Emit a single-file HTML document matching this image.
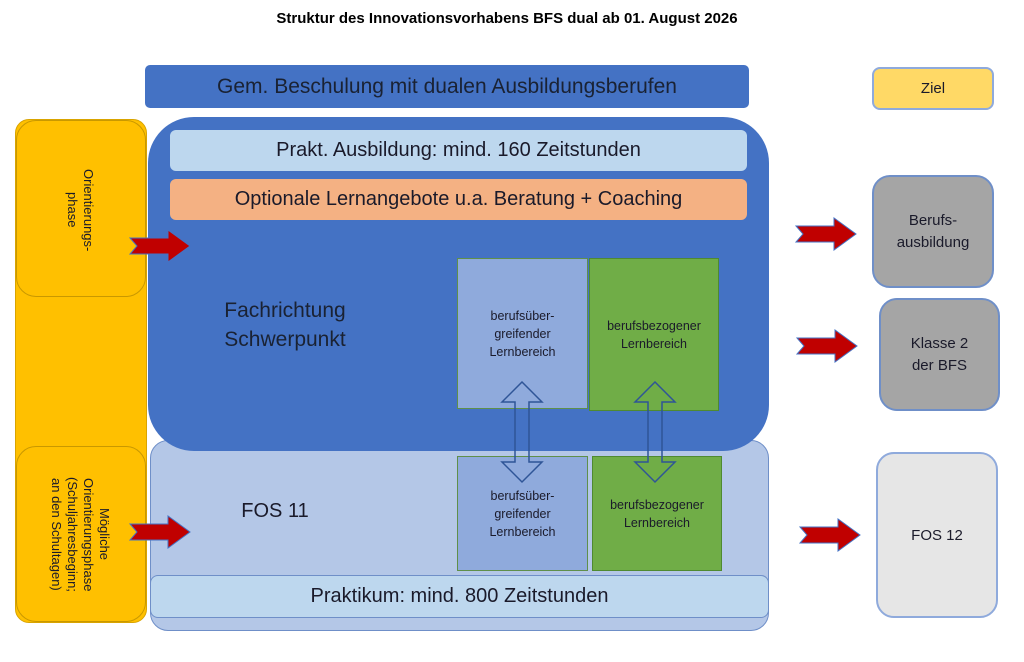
<!DOCTYPE html>
<html><head><meta charset="utf-8"><style>
body{margin:0;width:1024px;height:662px;background:#fff;position:relative;overflow:hidden;font-family:"Liberation Sans",sans-serif;color:#1a1a2a}
.a{position:absolute;box-sizing:border-box;display:flex;align-items:center;justify-content:center;text-align:center}
.v{writing-mode:vertical-rl;font-size:13px;line-height:16px;text-align:center}
</style></head><body>
<div class="a" style="left:0;top:6px;width:1014px;height:24px;font-weight:bold;font-size:15px;color:#000">Struktur des Innovationsvorhabens BFS dual ab 01. August 2026</div>

<div class="a" style="left:145px;top:65px;width:604px;height:43px;background:#4472c4;border-radius:5px;font-size:21px;color:#1a2233">Gem. Beschulung mit dualen Ausbildungsberufen</div>
<div class="a" style="left:872px;top:67px;width:122px;height:43px;background:#ffd966;border:2px solid #8faadc;border-radius:8px;font-size:15px">Ziel</div>

<!-- yellow column -->
<div class="a" style="left:15px;top:119px;width:132px;height:504px;background:#ffc000;border:1px solid #d9a400;border-radius:14px"></div>
<div style="position:absolute;left:16px;top:120px;width:130px;height:177px;box-sizing:border-box;border:1px solid #c99800;border-radius:20px"></div>
<div class="v" style="position:absolute;left:64px;top:155px;height:110px">Orientierungs-<br>phase</div>
<div style="position:absolute;left:16px;top:446px;width:130px;height:176px;box-sizing:border-box;border:1px solid #c99800;border-radius:20px"></div>
<div class="v" style="position:absolute;left:48px;top:462px;height:145px">Mögliche<br>Orientierungsphase<br>(Schuljahresbeginn;<br>an den Schultagen)</div>

<!-- FOS lower -->
<div class="a" style="left:150px;top:440px;width:619px;height:191px;background:#b4c7e7;border:1.5px solid #6f8fc8;border-radius:18px"></div>
<!-- blue big -->
<div class="a" style="left:148px;top:117px;width:621px;height:334px;background:#4472c4;border-radius:46px"></div>
<div class="a" style="left:170px;top:130px;width:577px;height:41px;background:#bdd7ee;border-radius:6px;font-size:20px">Prakt. Ausbildung: mind. 160 Zeitstunden</div>
<div class="a" style="left:170px;top:179px;width:577px;height:41px;background:#f4b183;border-radius:6px;font-size:20px">Optionale Lernangebote u.a. Beratung + Coaching</div>
<div class="a" style="left:195px;top:292px;width:180px;height:66px;font-size:21px;line-height:29px;color:#1a2233">Fachrichtung<br>Schwerpunkt</div>

<div class="a" style="left:457px;top:258px;width:131px;height:151px;background:#8faadc;border:1px solid #5f8f4a;font-size:12.5px;line-height:18px">berufsüber-<br>greifender<br>Lernbereich</div>
<div class="a" style="left:589px;top:258px;width:130px;height:153px;background:#70ad47;border:1px solid #4f8a30;font-size:12.5px;line-height:18px">berufsbezogener<br>Lernbereich</div>

<div class="a" style="left:230px;top:496px;width:90px;height:30px;font-size:20px">FOS 11</div>
<div class="a" style="left:457px;top:456px;width:131px;height:115px;background:#8faadc;border:1px solid #5f8f4a;font-size:12.5px;line-height:18px">berufsüber-<br>greifender<br>Lernbereich</div>
<div class="a" style="left:592px;top:456px;width:130px;height:115px;background:#70ad47;border:1px solid #4f8a30;font-size:12.5px;line-height:18px">berufsbezogener<br>Lernbereich</div>
<div class="a" style="left:150px;top:575px;width:619px;height:43px;background:#bdd7ee;border:1.5px solid #6f8fc8;border-radius:8px;font-size:20px">Praktikum: mind. 800 Zeitstunden</div>

<!-- right boxes -->
<div class="a" style="left:872px;top:175px;width:122px;height:113px;background:#a5a5a5;border:2px solid #6f8fc8;border-radius:18px;font-size:15px;line-height:22px">Berufs-<br>ausbildung</div>
<div class="a" style="left:879px;top:298px;width:121px;height:113px;background:#a5a5a5;border:2px solid #6f8fc8;border-radius:18px;font-size:15px;line-height:22px">Klasse 2<br>der BFS</div>
<div class="a" style="left:876px;top:452px;width:122px;height:166px;background:#e6e6e6;border:2px solid #8faadc;border-radius:18px;font-size:15px">FOS 12</div>

<svg width="1024" height="662" style="position:absolute;left:0;top:0">
<defs><polygon id="ar" points="0,8 38,8 38,0 60,16 38,32 38,24 0,24 7,16" fill="#c00000" stroke="#4472c4" stroke-width="1"/>
<polygon id="da" points="0,20 20,0 40,20 27,20 27,80 40,80 20,100 0,80 13,80 13,20" fill="none" stroke="#2f5597" stroke-width="1.5"/></defs>
<use href="#ar" x="130" y="230"/>
<use href="#ar" x="130" y="516"/>
<use href="#ar" x="796" y="218"/>
<use href="#ar" x="797" y="330"/>
<use href="#ar" x="800" y="519"/>
<use href="#da" x="502" y="382"/>
<use href="#da" x="635" y="382"/>
</svg>
</body></html>
